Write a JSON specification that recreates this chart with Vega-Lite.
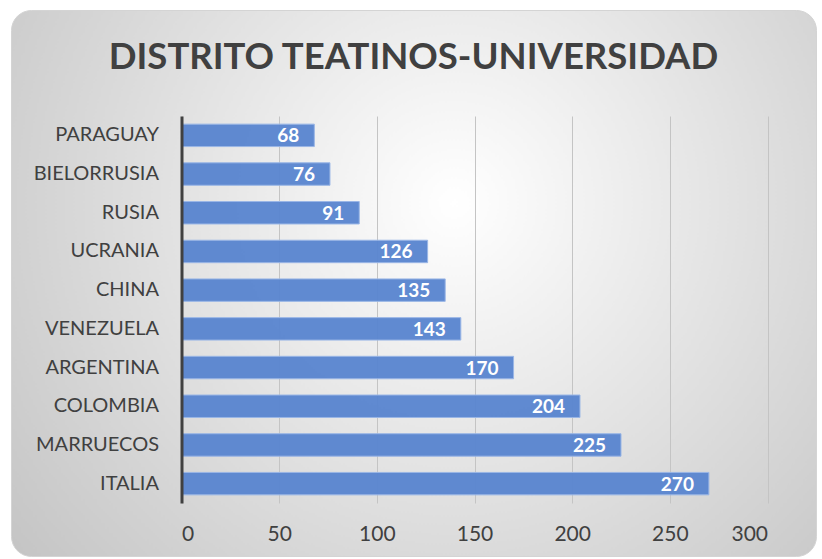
{
  "$schema": "https://vega.github.io/schema/vega-lite/v6.json",
  "width": 805,
  "height": 546,
  "autosize": "none",
  "padding": {"left": 11, "top": 10, "right": 6, "bottom": 3},
  "background": "#ffffff",
  "view": {
    "cornerRadius": 20,
    "stroke": "#d4d4d4",
    "strokeWidth": 1,
    "fill": {
      "gradient": "radial",
      "x1": 0.55, "y1": 0.4, "r1": 0,
      "x2": 0.55, "y2": 0.4, "r2": 0.75,
      "stops": [
        {"offset": 0, "color": "#ffffff"},
        {"offset": 1, "color": "#c0c0c0"}
      ]
    }
  },
  "title": {
    "text": "DISTRITO TEATINOS-UNIVERSIDAD",
    "font": "Lato",
    "fontSize": 36.5,
    "fontWeight": "bold",
    "color": "#404040",
    "anchor": "middle",
    "frame": "group",
    "baseline": "middle",
    "offset": -84
  },
  "data": {
    "values": [
      {"pais": "PARAGUAY", "valor": 68},
      {"pais": "BIELORRUSIA", "valor": 76},
      {"pais": "RUSIA", "valor": 91},
      {"pais": "UCRANIA", "valor": 126},
      {"pais": "CHINA", "valor": 135},
      {"pais": "VENEZUELA", "valor": 143},
      {"pais": "ARGENTINA", "valor": 170},
      {"pais": "COLOMBIA", "valor": 204},
      {"pais": "MARRUECOS", "valor": 225},
      {"pais": "ITALIA", "valor": 270}
    ]
  },
  "encoding": {
    "y": {
      "field": "pais",
      "type": "nominal",
      "sort": null,
      "scale": {"range": [106, 493], "paddingInner": 0.42, "paddingOuter": 0.21},
      "axis": {
        "orient": "left",
        "offset": -170.5,
        "title": null,
        "domain": true,
        "domainColor": "#404040",
        "domainWidth": 3,
        "ticks": false,
        "labelPadding": 23,
        "labelFont": "Lato",
        "labelFontSize": 20,
        "labelColor": "#404040",
        "zindex": 1
      }
    },
    "x": {
      "field": "valor",
      "type": "quantitative",
      "scale": {"domain": [0, 300], "range": [170.5, 756.5], "nice": false, "zero": true},
      "axis": {
        "orient": "top",
        "offset": -493,
        "title": null,
        "values": [0, 50, 100, 150, 200, 250, 300],
        "grid": true,
        "gridColor": "#c4c4c4",
        "gridWidth": 1,
        "domain": false,
        "ticks": false,
        "labelBaseline": "middle",
        "labelPadding": -31,
        "labelFont": "Lato",
        "labelFontSize": 21,
        "labelColor": "#404040"
      }
    }
  },
  "layer": [
    {
      "mark": {
        "type": "bar",
        "fill": "#5a85cf",
        "stroke": "#9ab6e6",
        "strokeWidth": 1,
        "fillOpacity": 0.96
      }
    },
    {
      "mark": {
        "type": "text",
        "align": "right",
        "baseline": "middle",
        "dx": -15,
        "dy": 1,
        "font": "Lato",
        "fontSize": 19,
        "fontWeight": "bold",
        "fill": "#ffffff"
      },
      "encoding": {
        "text": {"field": "valor", "type": "quantitative"}
      }
    }
  ]
}
